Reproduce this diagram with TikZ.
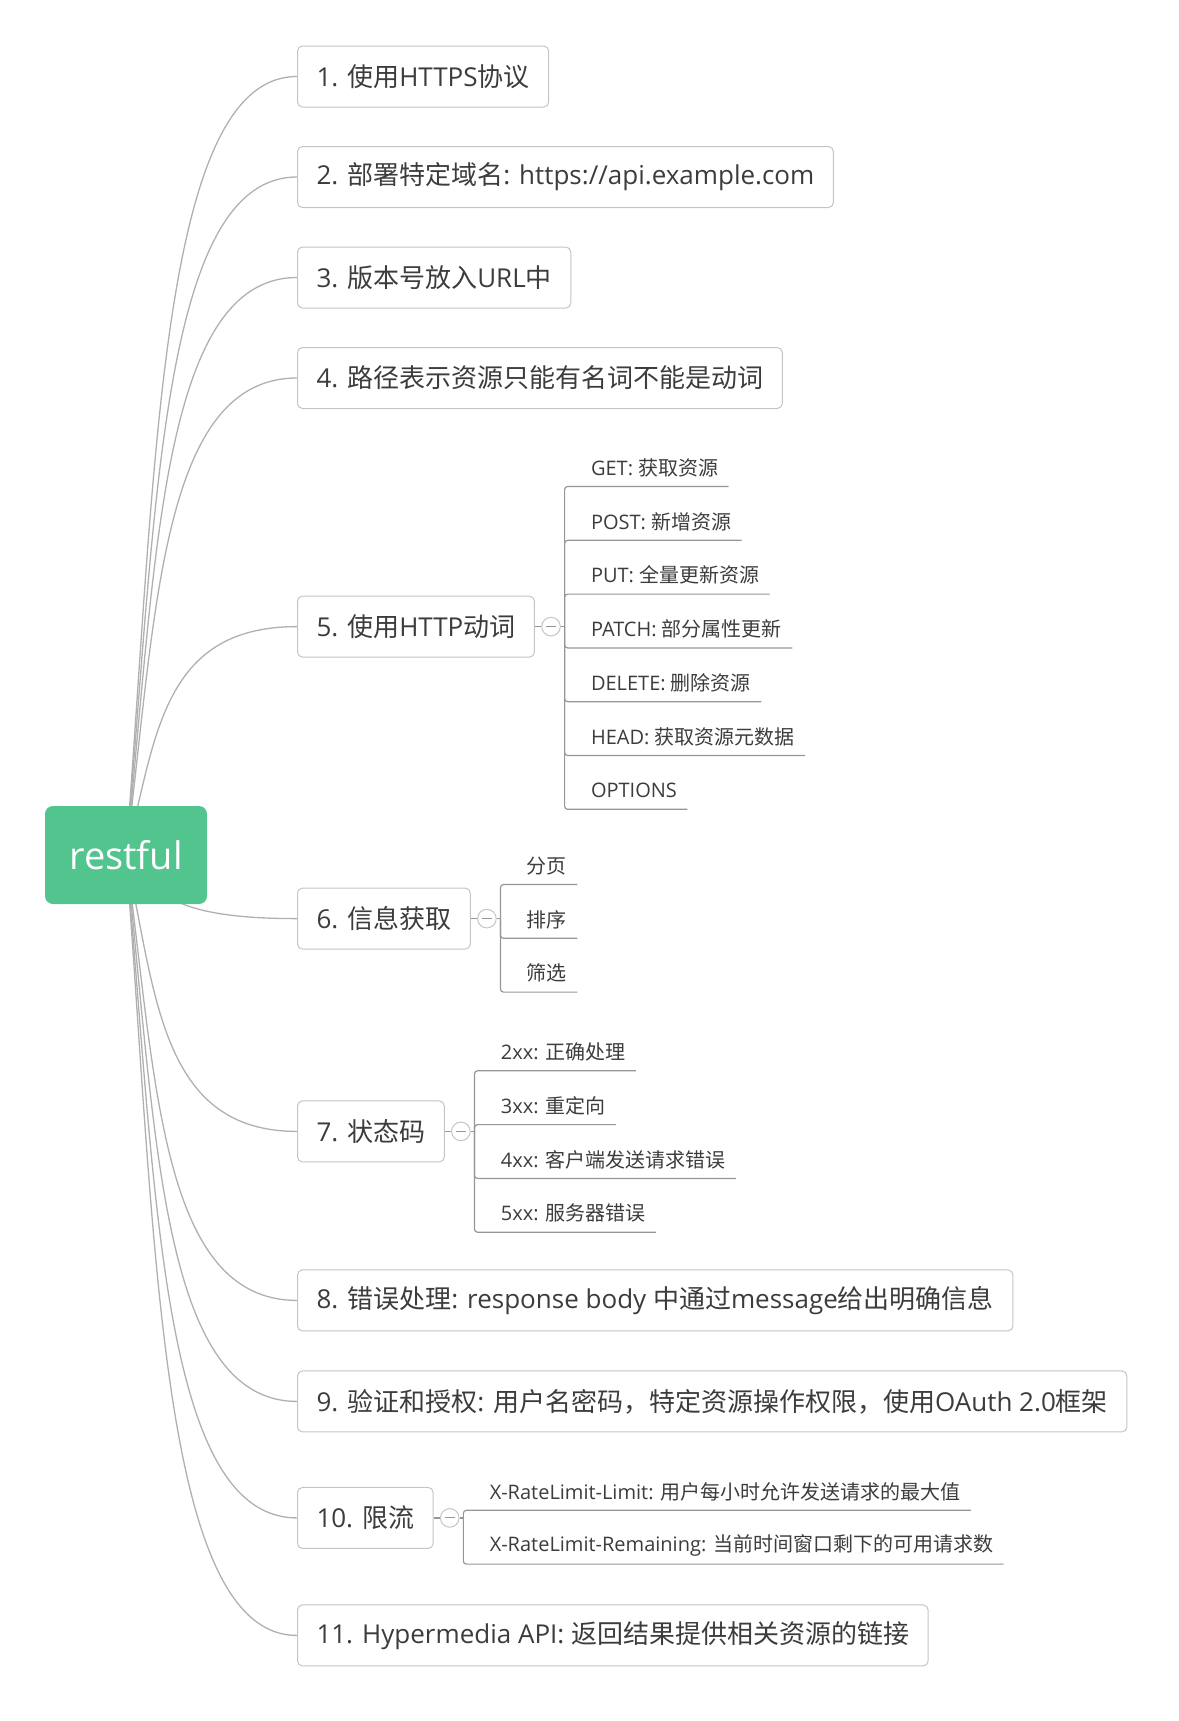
\documentclass[tikz,border=0pt]{standalone}
\usepackage{fontspec}
\setmainfont{Open Sans}
\newfontfamily\zhfont{Noto Sans CJK SC}
% switch to the CJK font for Chinese characters
\XeTeXinterchartokenstate=1
\newXeTeXintercharclass\zhclass
\newcount\zhcode
\zhcode="4E00
\loop
  \XeTeXcharclass\zhcode=\zhclass
  \ifnum\zhcode<"9FFF \advance\zhcode by 1
\repeat
\XeTeXcharclass"FF0C=\zhclass
\XeTeXinterchartoks 0 \zhclass = {\zhfont}
\XeTeXinterchartoks 4095 \zhclass = {\zhfont}
\XeTeXinterchartoks \zhclass 0 = {\rmfamily}
\XeTeXinterchartoks \zhclass 4095 = {\rmfamily}
\usetikzlibrary{positioning, backgrounds}
\definecolor{rootgreen}{RGB}{82,196,141}
\definecolor{lightline}{RGB}{196,196,196}
\definecolor{curveline}{RGB}{176,176,176}
\definecolor{midline}{RGB}{150,150,150}
\definecolor{inkgray}{RGB}{60,60,60}

\begin{document}
\begin{tikzpicture}[x=0.5pt, y=-0.5pt,
    topic/.style={draw=lightline, line width=0.5pt, rounded corners=2.5pt, text=inkgray,
        font=\fontsize{13pt}{15pt}\selectfont, minimum height=30.5pt, inner xsep=9.5pt, inner ysep=0pt},
    leaf/.style={text=inkgray, font=\fontsize{10pt}{12pt}\selectfont,
        minimum height=18.5pt, inner xsep=5pt, inner ysep=0pt},
    fold/.style={circle, draw=lightline, line width=0.5pt, minimum size=9.3pt, inner sep=0pt,
        path picture={\draw[midline, line width=0.5pt] ([xshift=2.2pt]path picture bounding box.west)
            -- ([xshift=-2.2pt]path picture bounding box.east);}},
    branch/.style={draw=curveline, line width=0.65pt},
    twig/.style={draw=midline, line width=0.6pt, rounded corners=1.5pt}]
    \useasboundingbox (0,0) rectangle (1179,1721);

    \node[fill=rootgreen, rounded corners=4pt, minimum width=81pt, minimum height=49pt,
        text=white, font=\fontsize{19pt}{22pt}\selectfont] (root) at (126,855) {restful};

    \node[topic, anchor=west] (b1) at (297,76.5) {1. 使用HTTPS协议};
    \node[topic, below=50.25pt of b1.west, anchor=west] (b2) {2. 部署特定域名: https://api.example.com};
    \node[topic, below=50.25pt of b2.west, anchor=west] (b3) {3. 版本号放入URL中};
    \node[topic, below=50.25pt of b3.west, anchor=west] (b4) {4. 路径表示资源只能有名词不能是动词};
    \node[topic, below=124.3pt of b4.west, anchor=west] (b5) {5. 使用HTTP动词};
    \node[topic, below=146pt of b5.west, anchor=west] (b6) {6. 信息获取};
    \node[topic, below=106.4pt of b6.west, anchor=west] (b7) {7. 状态码};
    \node[topic, below=84.5pt of b7.west, anchor=west] (b8) {8. 错误处理: response body 中通过message给出明确信息};
    \node[topic, below=50.5pt of b8.west, anchor=west] (b9) {9. 验证和授权: 用户名密码，特定资源操作权限，使用OAuth 2.0框架};
    \node[topic, below=58.25pt of b9.west, anchor=west] (b10) {10. 限流};
    \node[topic, below=58.75pt of b10.west, anchor=west] (b11) {11. Hypermedia API: 返回结果提供相关资源的链接};

    % fold marks and junctions
    \node[fold, right=3.15pt of b5] (f5) {};
    \node[fold, right=3.15pt of b6] (f6) {};
    \node[fold, right=3.15pt of b7] (f7) {};
    \node[fold, right=3.15pt of b10] (f10) {};
    \coordinate[right=1.9pt of f5] (j5);
    \coordinate[right=1.9pt of f6] (j6);
    \coordinate[right=1.9pt of f7] (j7);
    \coordinate[right=1.9pt of f10] (j10);

    \node[leaf, right=8pt of j5, yshift=79.5pt] (get) {GET: 获取资源};
    \node[leaf, below=8pt of get.south west, anchor=north west] (post) {POST: 新增资源};
    \node[leaf, below=8pt of post.south west, anchor=north west] (put) {PUT: 全量更新资源};
    \node[leaf, below=8pt of put.south west, anchor=north west] (patch) {PATCH: 部分属性更新};
    \node[leaf, below=8pt of patch.south west, anchor=north west] (del) {DELETE: 删除资源};
    \node[leaf, below=8pt of del.south west, anchor=north west] (head) {HEAD: 获取资源元数据};
    \node[leaf, below=8pt of head.south west, anchor=north west] (opt) {OPTIONS};

    \node[leaf, right=8pt of j6, yshift=26.5pt] (page) {分页};
    \node[leaf, below=8pt of page.south west, anchor=north west] (sort) {排序};
    \node[leaf, below=8pt of sort.south west, anchor=north west] (filt) {筛选};

    \node[leaf, right=8pt of j7, yshift=39.75pt] (s2) {2xx: 正确处理};
    \node[leaf, below=8pt of s2.south west, anchor=north west] (s3) {3xx: 重定向};
    \node[leaf, below=8pt of s3.south west, anchor=north west] (s4) {4xx: 客户端发送请求错误};
    \node[leaf, below=8pt of s4.south west, anchor=north west] (s5) {5xx: 服务器错误};

    \node[leaf, right=8pt of j10, yshift=13.25pt] (lim) {X-RateLimit-Limit: 用户每小时允许发送请求的最大值};
    \node[leaf, below=8pt of lim.south west, anchor=north west] (rem) {X-RateLimit-Remaining: 当前时间窗口剩下的可用请求数};

    \begin{scope}[on background layer]
        \foreach \b/\h in {b1/-389.25, b2/-339, b3/-288.75, b4/-238.6, b5/-114.3, b6/31.65,
                b7/138, b8/222.5, b9/273, b10/331.25, b11/390}
            \draw[branch] (root.center) .. controls +(30,\h) and +(-137,0) .. (\b.west);

        \draw[twig] (b5) -- (f5) (f5) -- (j5)
                    (b6) -- (f6) (f6) -- (j6)
                    (b7) -- (f7) (f7) -- (j7)
                    (b10) -- (f10) (f10) -- (j10);
        \foreach \c in {get, post, put, patch, del, head, opt}
            \draw[twig] (j5) |- (\c.south east);
        \foreach \c in {page, sort, filt}
            \draw[twig] (j6) |- (\c.south east);
        \foreach \c in {s2, s3, s4, s5}
            \draw[twig] (j7) |- (\c.south east);
        \foreach \c in {lim, rem}
            \draw[twig] (j10) |- (\c.south east);
    \end{scope}
\end{tikzpicture}
\end{document}
